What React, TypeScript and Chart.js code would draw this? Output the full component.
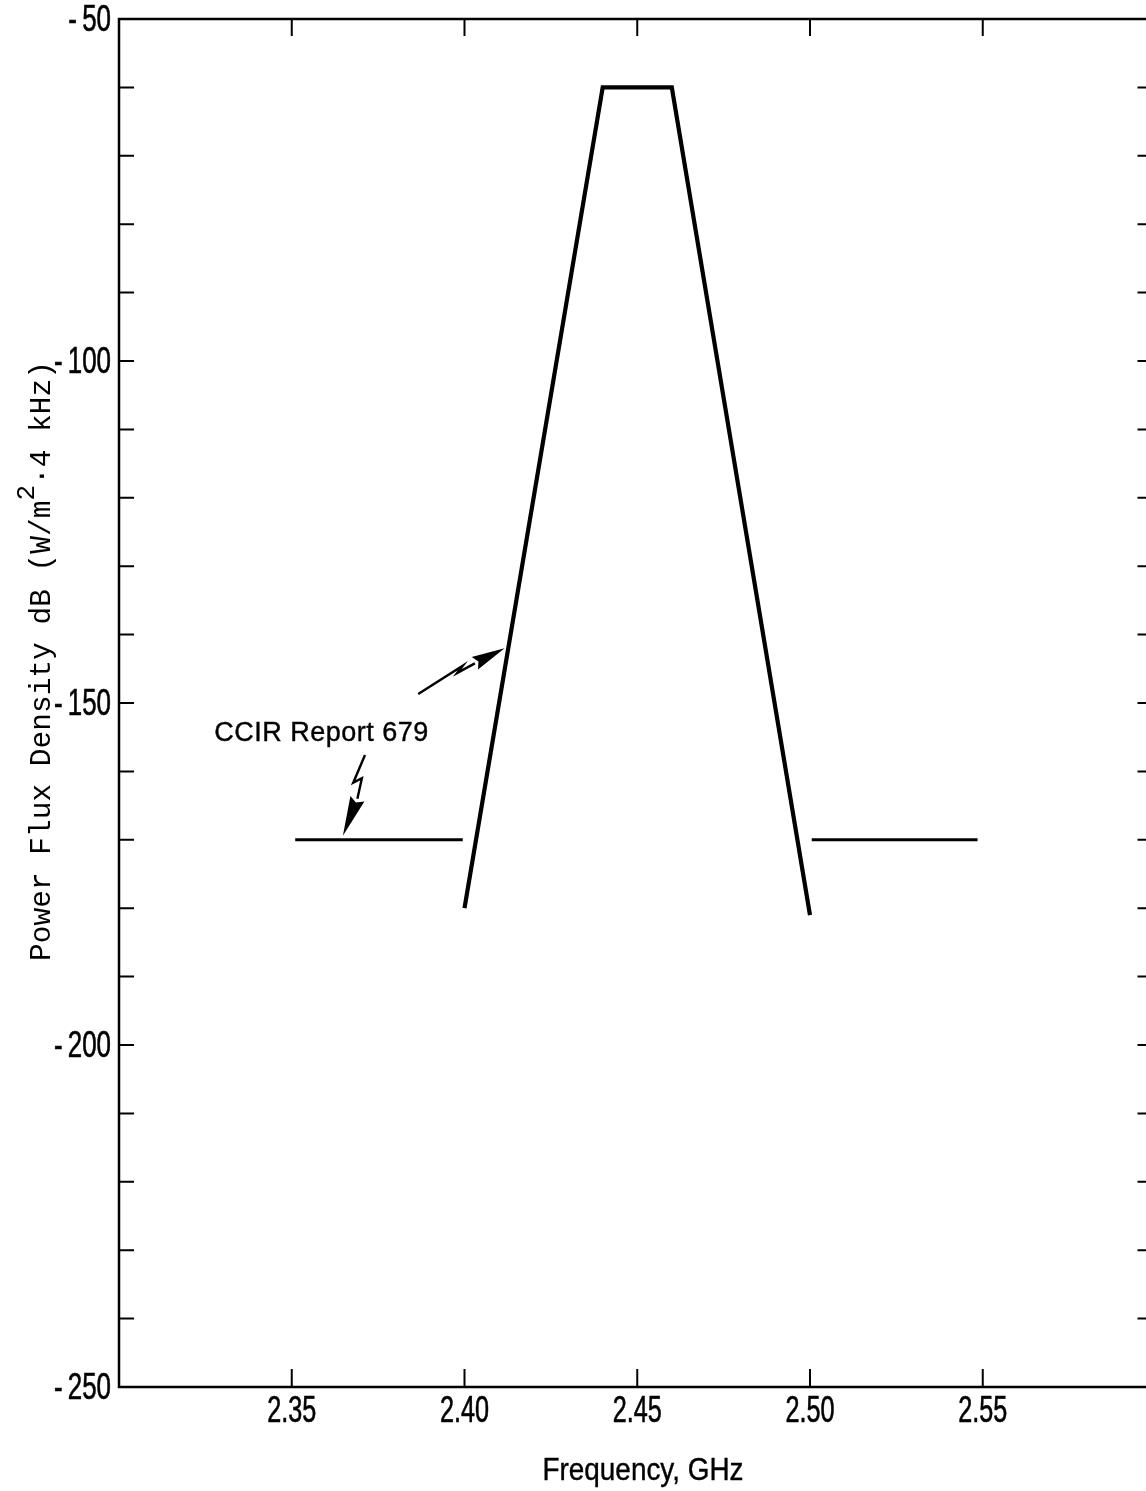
import { useEffect, useRef } from 'react';
import { Chart, registerables } from 'chart.js';

Chart.register(...registerables);

// ---- data ----
const mainFreq = [2.40, 2.44, 2.46, 2.50];
const mainPfd = [-180, -60, -60, -181];
const lowerFreq = [2.351, 2.3995];
const lowerPfd = [-170, -170];
const upperFreq = [2.5005, 2.5485];
const upperPfd = [-170, -170];
const xTickValues = [2.35, 2.40, 2.45, 2.50, 2.55];
const yLabelValues = [-50, -100, -150, -200, -250];
const xTitle = 'Frequency, GHz';
const yTitleParts = ['Power Flux Density dB (W/m', '2', '\u00B74 kHz)'];
const annotationText = 'CCIR Report 679';
const annotationPos = [2.3586, -154.4];
// lightning arrows in data coordinates: tail, zig, zag, head base, tip
const arrowA = [[2.3866, -148.7], [2.3995, -144.55], [2.3979, -145.6], [2.4030, -144.2], [2.4116, -142.0]];
const arrowB = [[2.3712, -157.6], [2.3678, -161.65], [2.3703, -161.0], [2.3690, -164.0], [2.3648, -169.4]];

const SANS = '"Liberation Sans", Arial, sans-serif';
const MONO = '"Liberation Mono", "Courier New", monospace';

const toPts = (xs: number[], ys: number[]) => xs.map((x, i) => ({ x, y: ys[i] }));

const condensedText = (ctx: CanvasRenderingContext2D, text: string, x: number, y: number, sx: number, align: CanvasTextAlign, weight = 0) => {
  ctx.save();
  ctx.translate(x, y);
  ctx.scale(sx, 1);
  ctx.textAlign = align;
  ctx.textBaseline = 'middle';
  ctx.fillText(text, 0, 0);
  if (weight > 0) {
    ctx.lineWidth = weight;
    ctx.strokeText(text, 0, 0);
  }
  ctx.restore();
};

const yLabel = (v: number) => (v < 0 ? '-\u2009' + Math.abs(v) : String(v));

const framePlugin = {
  id: 'frame',
  afterDatasetsDraw(chart: any) {
    const { ctx, chartArea: a, scales } = chart;
    const xs = scales.x;
    const ys = scales.y;
    ctx.save();
    ctx.strokeStyle = '#000';
    ctx.fillStyle = '#000';
    ctx.lineWidth = 2.5;
    ctx.lineCap = 'square';
    ctx.beginPath();
    ctx.moveTo(a.left, a.top);
    ctx.lineTo(a.right, a.top);
    ctx.lineTo(a.right, a.bottom);
    ctx.lineTo(a.left, a.bottom);
    ctx.closePath();
    ctx.stroke();
    ctx.lineWidth = 2;
    ctx.lineCap = 'butt';
    ctx.beginPath();
    ys.ticks.forEach((t: any) => {
      const py = ys.getPixelForValue(t.value);
      ctx.moveTo(a.left, py);
      ctx.lineTo(a.left + 15, py);
      ctx.moveTo(a.right, py);
      ctx.lineTo(a.right - 18, py);
    });
    xs.ticks.forEach((t: any) => {
      const px = xs.getPixelForValue(t.value);
      ctx.moveTo(px, a.bottom);
      ctx.lineTo(px, a.bottom - 18);
      ctx.moveTo(px, a.top);
      ctx.lineTo(px, a.top + 17);
    });
    ctx.stroke();

    // tick labels (condensed face)
    ctx.font = `36px ${SANS}`;
    ys.ticks.forEach((t: any) => {
      if (!yLabelValues.includes(t.value)) return;
      condensedText(ctx, yLabel(t.value), a.left - 8, ys.getPixelForValue(t.value) + 2, 0.72, 'right', 0.6);
    });
    xs.ticks.forEach((t: any) => {
      condensedText(ctx, t.value.toFixed(2), xs.getPixelForValue(t.value), a.bottom + 25, 0.7, 'center', 0.6);
    });

    // x title
    ctx.font = `31px ${SANS}`;
    condensedText(ctx, xTitle, 643, a.bottom + 84, 0.9, 'center', 0.4);

    // lightning arrows
    const drawArrow = (pts: number[][], halfW: number) => {
      const p = pts.map(([x, y]) => [xs.getPixelForValue(x), ys.getPixelForValue(y)]);
      ctx.lineWidth = 2.4;
      ctx.lineJoin = 'miter';
      ctx.beginPath();
      ctx.moveTo(p[0][0], p[0][1]);
      ctx.lineTo(p[1][0], p[1][1]);
      ctx.lineTo(p[2][0], p[2][1]);
      ctx.lineTo(p[3][0], p[3][1]);
      ctx.stroke();
      const [bx, by] = p[3];
      const [tx, ty] = p[4];
      const dx = tx - bx;
      const dy = ty - by;
      const len = Math.hypot(dx, dy);
      const nx = -dy / len;
      const ny = dx / len;
      ctx.beginPath();
      ctx.moveTo(tx, ty);
      ctx.lineTo(bx + nx * halfW, by + ny * halfW);
      ctx.lineTo(bx + (dx / len) * 4, by + (dy / len) * 4);
      ctx.lineTo(bx - nx * halfW, by - ny * halfW);
      ctx.closePath();
      ctx.fill();
    };
    drawArrow(arrowA, 7);
    drawArrow(arrowB, 7.5);

    ctx.font = `27px ${SANS}`;
    (ctx as any).letterSpacing = '0.5px';
    ctx.textAlign = 'center';
    ctx.textBaseline = 'middle';
    ctx.fillText(annotationText, xs.getPixelForValue(annotationPos[0]), ys.getPixelForValue(annotationPos[1]));
    ctx.lineWidth = 0.4;
    ctx.strokeText(annotationText, xs.getPixelForValue(annotationPos[0]), ys.getPixelForValue(annotationPos[1]));
    (ctx as any).letterSpacing = '0px';

    // y-axis title with superscript
    ctx.translate(40, 661);
    ctx.rotate(-Math.PI / 2);
    const mainFont = `29.5px ${MONO}`;
    const supFont = `26px ${MONO}`;
    const [s1, s2, s3] = yTitleParts;
    ctx.font = mainFont;
    const w1 = ctx.measureText(s1).width;
    const w3 = ctx.measureText(s3).width;
    ctx.font = supFont;
    const w2 = ctx.measureText(s2).width;
    let cx = -(w1 + w2 + w3) / 2;
    ctx.textAlign = 'left';
    ctx.textBaseline = 'alphabetic';
    ctx.font = mainFont;
    ctx.fillText(s1, cx, 10);
    cx += w1;
    ctx.font = supFont;
    ctx.fillText(s2, cx, -6);
    cx += w2;
    ctx.font = mainFont;
    ctx.fillText(s3, cx, 10);
    ctx.restore();
  },
};

export default function App() {
  const ref = useRef<HTMLCanvasElement | null>(null);
  useEffect(() => {
    document.body.style.margin = '0';
    const canvas = ref.current;
    if (!canvas) return;
    const line = { showLine: true, pointRadius: 0, borderColor: '#000', fill: false, tension: 0 };
    const chart = new Chart(canvas, {
      type: 'scatter',
      data: {
        datasets: [
          { ...line, data: toPts(mainFreq, mainPfd), borderWidth: 4.2, borderJoinStyle: 'miter' },
          { ...line, data: toPts(lowerFreq, lowerPfd), borderWidth: 3 },
          { ...line, data: toPts(upperFreq, upperPfd), borderWidth: 3 },
        ] as any,
      },
      options: {
        animation: false,
        responsive: true,
        maintainAspectRatio: false,
        layout: { padding: { top: 19, right: 14.5, left: 0, bottom: 0 } },
        plugins: { legend: { display: false }, tooltip: { enabled: false } },
        scales: {
          x: {
            type: 'linear',
            min: 2.30,
            max: 2.60,
            grid: { display: false, drawTicks: false },
            border: { display: false },
            afterBuildTicks: (s: any) => { s.ticks = xTickValues.map((v) => ({ value: v })); },
            afterFit: (s: any) => { s.height = 104; },
            ticks: { display: false },
          },
          y: {
            type: 'linear',
            min: -250,
            max: -50,
            grid: { display: false, drawTicks: false },
            border: { display: false },
            afterFit: (s: any) => { s.width = 119; },
            ticks: { display: false, stepSize: 10 },
          },
        },
      },
      plugins: [framePlugin],
    } as any);
    return () => chart.destroy();
  }, []);
  return (
    <div style={{ width: 1146, height: 1491, overflow: 'hidden', background: '#fff' }}>
      <div style={{ position: 'relative', width: 1170, height: 1491 }}>
        <canvas ref={ref} />
      </div>
    </div>
  );
}
